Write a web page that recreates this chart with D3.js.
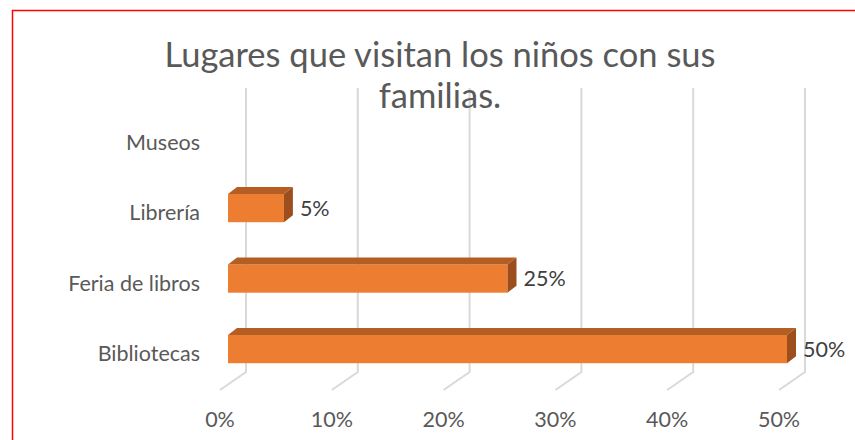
<!DOCTYPE html>
<html>
<head>
<meta charset="utf-8">
<script src="https://cdn.jsdelivr.net/npm/d3@7"></script>
<style>
  body { margin: 0; background: #fff; }
  svg { display: block; font-family: Lato, "Open Sans", sans-serif; }
</style>
</head>
<body>
<div class="chart"></div>
<script>
// data
const categories = ["Museos", "Librería", "Feria de libros", "Bibliotecas"];
const values = [null, 0.05, 0.25, 0.50];
const ticks = [0, 0.1, 0.2, 0.3, 0.4, 0.5];
const titleLines = ["Lugares que visitan los niños con sus", "familias."];

const width = 855, height = 440;

const svg = d3.select(".chart").append("svg")
  .attr("width", width)
  .attr("height", height);

// red frame (runs off the right and bottom edge)
svg.append("rect")
  .attr("x", 12.5).attr("y", 10.5)
  .attr("width", 900).attr("height", 500)
  .attr("fill", "none")
  .attr("stroke", "#ff0000")
  .attr("stroke-width", 1.5);

// x on the front floor edge; back wall is shifted by depth
const x = d3.scaleLinear().domain([0, 0.5]).range([220, 779]);
const depth = {dx: 26, dy: -18};
const floorY = 390, topY = 88;

const y = d3.scaleBand()
  .domain(categories)
  .range([102.35, 384.35])
  .paddingInner(0.6)
  .paddingOuter(0.3);

// gridlines: back wall verticals + floor diagonals
const grid = svg.append("g")
  .attr("stroke", "#d9d9d9")
  .attr("stroke-width", 2)
  .attr("fill", "none");

grid.selectAll("path")
  .data(ticks)
  .enter()
  .append("path")
  .attr("d", d => {
    const bx = x(d) + depth.dx, by = floorY + depth.dy;
    return `M${bx},${topY}L${bx},${by}L${x(d)},${floorY}`;
  });

// tick labels
svg.append("g")
  .selectAll("text")
  .data(ticks)
  .enter()
  .append("text")
  .attr("x", d => x(d))
  .attr("y", 427)
  .attr("text-anchor", "middle")
  .attr("font-size", 21.5)
  .attr("fill", "#595959")
  .text(d => d3.format(".0%")(d));

// category labels
svg.append("g")
  .selectAll("text")
  .data(categories)
  .enter()
  .append("text")
  .attr("x", 200)
  .attr("y", d => y(d) + y.bandwidth() / 2 + 12)
  .attr("text-anchor", "end")
  .attr("font-size", 21.5)
  .attr("fill", "#595959")
  .text(d => d);

// 3d bars
const barOff = 8;           // bar front face sits behind the front plane
const bd = {dx: 9, dy: -7}; // bar depth
const rows = categories.map((c, i) => ({cat: c, v: values[i]})).filter(d => d.v);

const bars = svg.append("g").selectAll("g")
  .data(rows)
  .enter()
  .append("g");

bars.append("rect")
  .attr("x", x(0) + barOff)
  .attr("y", d => y(d.cat))
  .attr("width", d => x(d.v) - x(0))
  .attr("height", y.bandwidth())
  .attr("fill", "#ed7d31");

bars.append("path")
  .attr("fill", "#b45e24")
  .attr("d", d => {
    const x0 = x(0) + barOff, x1 = x(d.v) + barOff, t = y(d.cat);
    return `M${x0},${t}L${x0 + bd.dx},${t + bd.dy}L${x1 + bd.dx},${t + bd.dy}L${x1},${t}Z`;
  });

bars.append("path")
  .attr("fill", "#9c4f1c")
  .attr("d", d => {
    const x1 = x(d.v) + barOff, t = y(d.cat), b = t + y.bandwidth();
    return `M${x1},${t}L${x1 + bd.dx},${t + bd.dy}L${x1 + bd.dx},${b + bd.dy}L${x1},${b}Z`;
  });

bars.append("text")
  .attr("x", d => x(d.v) + barOff + bd.dx + 7)
  .attr("y", d => y(d.cat) + y.bandwidth() / 2 + 7.5)
  .attr("font-size", 21.5)
  .attr("fill", "#404040")
  .text(d => d3.format(".0%")(d.v));

// title
svg.append("g")
  .selectAll("text")
  .data(titleLines)
  .enter()
  .append("text")
  .attr("x", 440)
  .attr("y", (d, i) => 67 + i * 41)
  .attr("text-anchor", "middle")
  .attr("font-size", 34.5)
  .attr("fill", "#595959")
  .text(d => d);
</script>
</body>
</html>
